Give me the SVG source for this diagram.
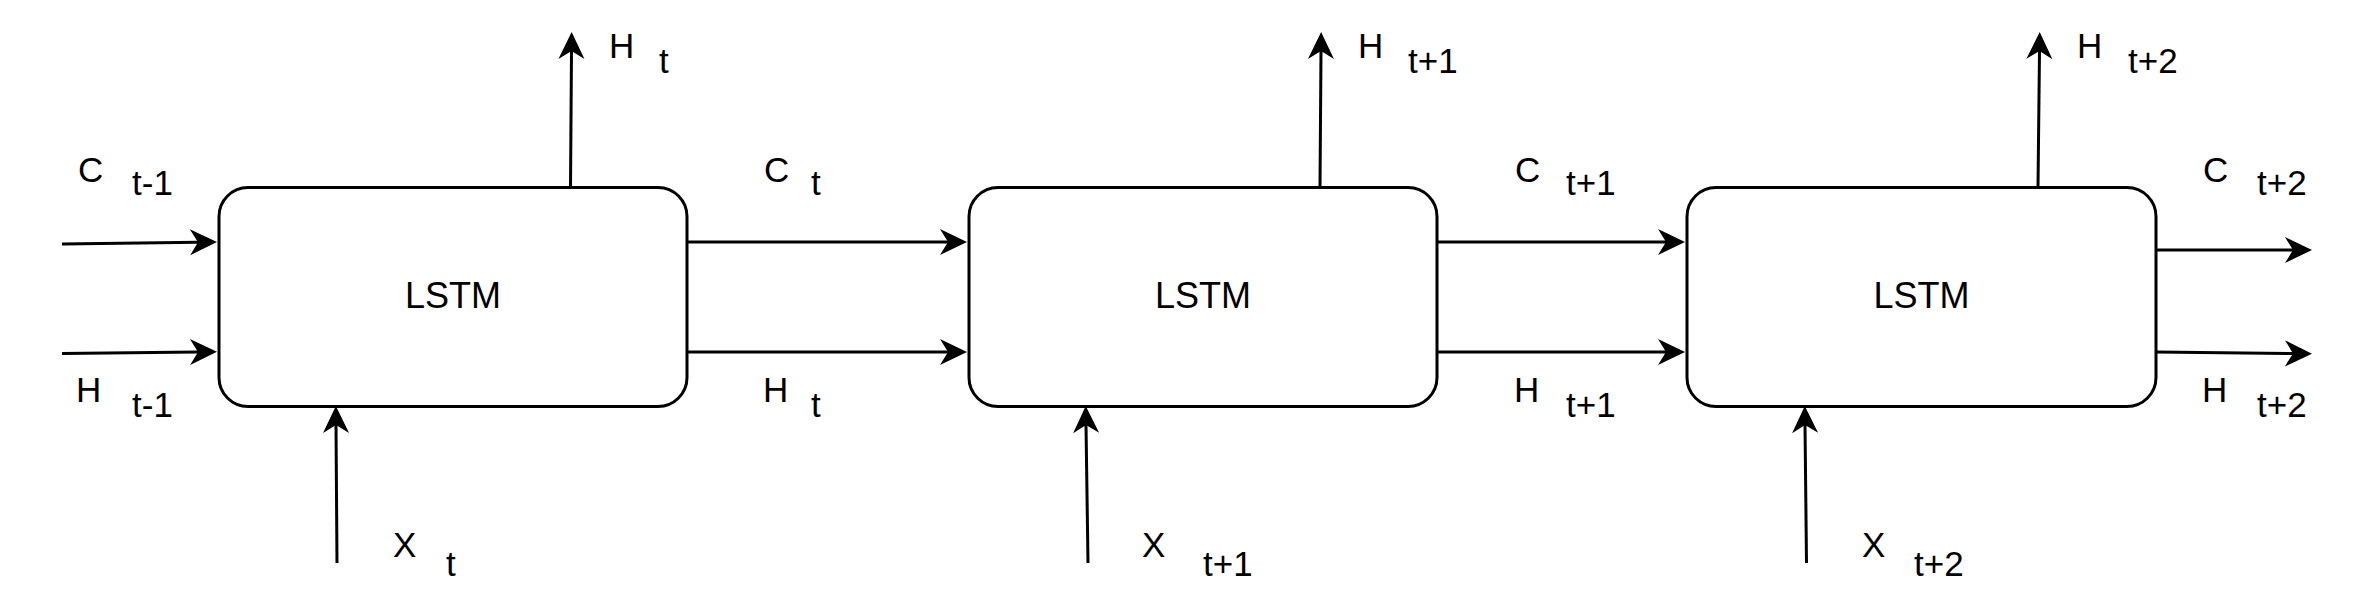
<svg xmlns="http://www.w3.org/2000/svg" width="2378" height="613" viewBox="0 0 2378 613">
<style>
.box{fill:#fff;stroke:#000;stroke-width:3}
.edge{fill:none;stroke:#000;stroke-width:3}
text{font-family:"Liberation Sans",Arial,sans-serif;font-size:35px;fill:#000}
.mid{text-anchor:middle;font-size:36px}
</style>
<defs>
<marker id="arr" markerUnits="userSpaceOnUse" markerWidth="40" markerHeight="40" refX="0" refY="0" orient="auto" overflow="visible">
<path d="M19,0 L-8,-13 L0,0 L-8,13 Z" fill="#000"/>
</marker>
</defs>
<rect width="2378" height="613" fill="#fff"/>
<g id="connectors">
<line class="edge" x1="62" y1="244" x2="198" y2="242.2" marker-end="url(#arr)"/>
<line class="edge" x1="62" y1="353.5" x2="198" y2="352" marker-end="url(#arr)"/>
<line class="edge" x1="570.5" y1="187" x2="571.5" y2="51" marker-end="url(#arr)"/>
<line class="edge" x1="337" y1="563" x2="336" y2="425" marker-end="url(#arr)"/>
<line class="edge" x1="687" y1="242" x2="948" y2="242" marker-end="url(#arr)"/>
<line class="edge" x1="687" y1="352" x2="948" y2="352" marker-end="url(#arr)"/>
<line class="edge" x1="1320" y1="187" x2="1321" y2="51" marker-end="url(#arr)"/>
<line class="edge" x1="1088" y1="563" x2="1086" y2="425" marker-end="url(#arr)"/>
<line class="edge" x1="1437" y1="242" x2="1666" y2="242" marker-end="url(#arr)"/>
<line class="edge" x1="1437" y1="352" x2="1666" y2="352" marker-end="url(#arr)"/>
<line class="edge" x1="2038" y1="187" x2="2039.5" y2="51" marker-end="url(#arr)"/>
<line class="edge" x1="1806.5" y1="563" x2="1805" y2="425" marker-end="url(#arr)"/>
<line class="edge" x1="2156" y1="250" x2="2293" y2="250" marker-end="url(#arr)"/>
<line class="edge" x1="2156" y1="352" x2="2293" y2="353.5" marker-end="url(#arr)"/>
</g>
<g id="lstm1">
<rect class="box" x="219" y="187.5" width="468" height="219" rx="29" ry="29"/>
<text class="mid" x="453" y="308">LSTM</text>
</g>
<g id="lstm2">
<rect class="box" x="969" y="187.5" width="468" height="219" rx="29" ry="29"/>
<text class="mid" x="1203" y="308">LSTM</text>
</g>
<g id="lstm3">
<rect class="box" x="1687" y="187.5" width="469" height="219" rx="29" ry="29"/>
<text class="mid" x="1921.5" y="308">LSTM</text>
</g>
<g id="labels">
<text x="78" y="182">C</text><text x="132" y="195">t-1</text>
<text x="76" y="402">H</text><text x="132" y="417">t-1</text>
<text x="609" y="58">H</text><text x="659" y="73">t</text>
<text x="393" y="557">X</text><text x="446" y="576">t</text>
<text x="764" y="182">C</text><text x="811" y="195">t</text>
<text x="763" y="402">H</text><text x="811" y="417">t</text>
<text x="1358" y="58">H</text><text x="1408" y="73">t+1</text>
<text x="1142" y="557">X</text><text x="1203" y="576">t+1</text>
<text x="1515" y="182">C</text><text x="1566" y="195">t+1</text>
<text x="1514" y="402">H</text><text x="1566" y="417">t+1</text>
<text x="2077" y="58">H</text><text x="2128" y="73">t+2</text>
<text x="1862" y="557">X</text><text x="1914" y="576">t+2</text>
<text x="2203" y="182">C</text><text x="2257" y="195">t+2</text>
<text x="2202" y="402">H</text><text x="2257" y="417">t+2</text>
</g>
</svg>
